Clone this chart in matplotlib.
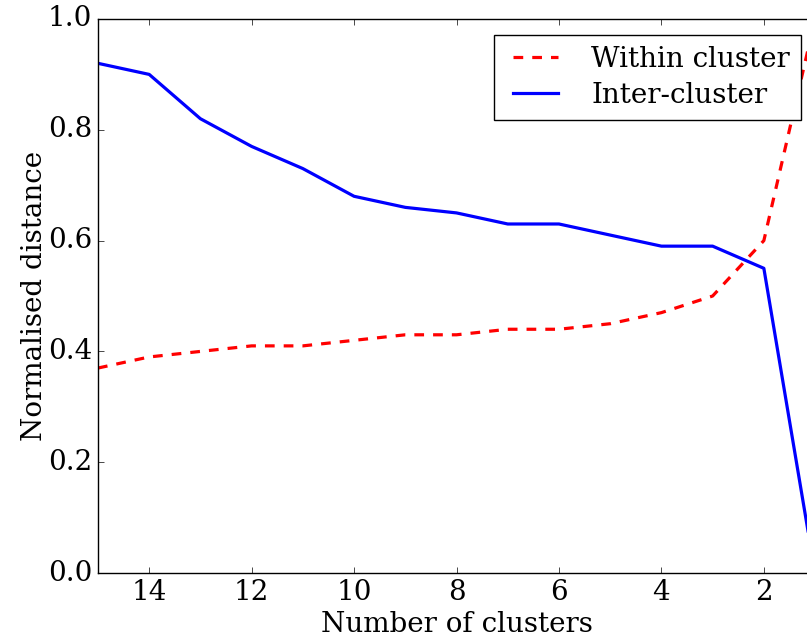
import numpy as np
import matplotlib
matplotlib.use('Agg')
import matplotlib.pyplot as plt

plt.style.use('classic')
plt.rcParams['font.family'] = 'serif'
plt.rcParams['font.serif'] = ['DejaVu Serif']
plt.rcParams['font.size'] = 20
plt.rcParams['lines.scale_dashes'] = False

# Cluster counts and normalised distances
n_clusters = [15, 14, 13, 12, 11, 10, 9, 8, 7, 6, 5, 4, 3, 2, 1]
within = [0.37, 0.39, 0.40, 0.41, 0.41, 0.42, 0.43, 0.43, 0.44, 0.44, 0.45, 0.47, 0.50, 0.60, 1.00]
inter = [0.92, 0.90, 0.82, 0.77, 0.73, 0.68, 0.66, 0.65, 0.63, 0.63, 0.61, 0.59, 0.59, 0.55, 0.00]

fig = plt.figure(figsize=(8.07, 6.44), dpi=100)
fig.patch.set_facecolor('white')
ax = fig.add_axes([0.1214, 0.1102, 0.8886, 0.8603])

ax.plot(n_clusters, within, color='r', ls='--', dashes=(7, 6.5), lw=2.3,
        label='Within cluster')
ax.plot(n_clusters, inter, color='b', ls='-', lw=2.3, label='Inter-cluster')

ax.set_xlim(15, 1)
ax.set_ylim(0, 1)
ax.set_xticks([14, 12, 10, 8, 6, 4, 2])
ax.set_yticks([0.0, 0.2, 0.4, 0.6, 0.8, 1.0])
ax.set_xlabel('Number of clusters', labelpad=4)
ax.set_ylabel('Normalised distance', labelpad=0)

leg = ax.legend(loc='upper right', bbox_to_anchor=(0.9805, 0.971), fontsize=20,
                borderaxespad=0, handlelength=2.2, borderpad=0.4,
                labelspacing=0.3, handletextpad=0.9)
leg.get_frame().set_linewidth(1)

fig.savefig('out.png', dpi=100)
